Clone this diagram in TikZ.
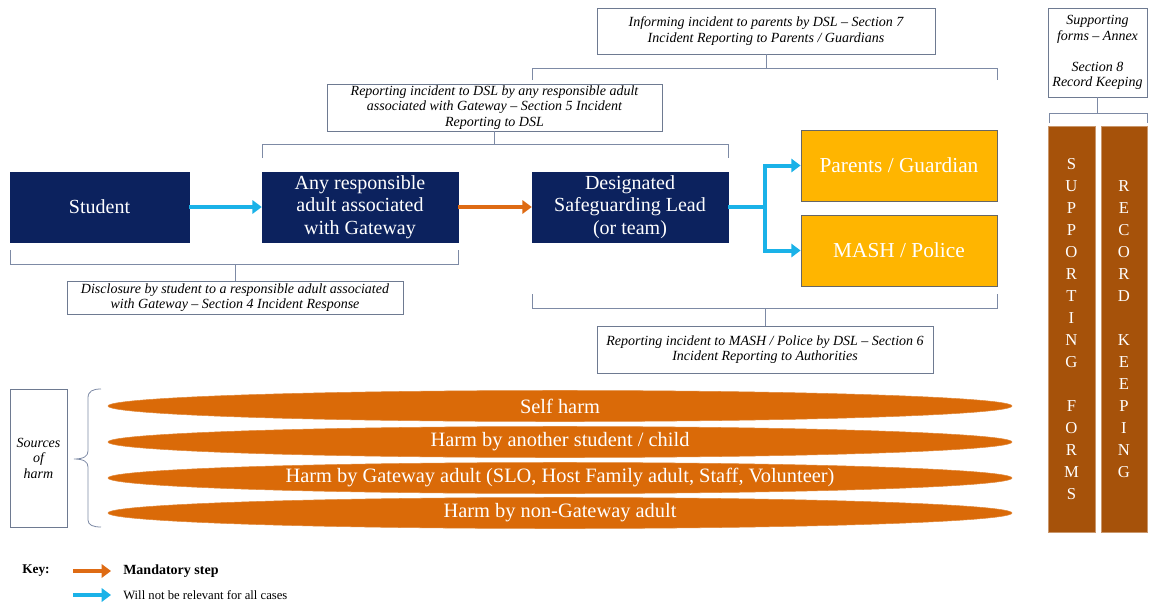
\documentclass[tikz,border=0pt]{standalone}
\usepackage{fontspec}
\setmainfont{Liberation Serif}
\usetikzlibrary{arrows.meta,shapes.geometric}
\definecolor{navy}{RGB}{12,34,94}
\definecolor{goldc}{RGB}{255,181,0}
\definecolor{ellc}{RGB}{218,106,8}
\definecolor{brownc}{RGB}{166,82,10}
\definecolor{cyanc}{RGB}{26,178,232}
\definecolor{orarrow}{RGB}{222,107,20}
\definecolor{brkc}{RGB}{125,138,165}
\definecolor{lblc}{RGB}{110,122,145}
\tikzset{
  navybox/.style={fill=navy, draw=navy, text=white, align=center, inner sep=0pt,
    minimum height=52.5pt, font=\fontsize{15}{17}\selectfont},
  goldbox/.style={fill=goldc, draw=gray!80!black, line width=0.6pt, text=white, align=center, inner sep=0pt,
    minimum width=147pt, minimum height=53.25pt, font=\fontsize{16}{18}\selectfont},
  lbl/.style={draw=lblc, line width=0.6pt, fill=white, align=center, inner sep=0pt,
    font=\itshape\fontsize{10.5}{11.6}\selectfont},
  brk/.style={draw=brkc, line width=0.6pt},
  harm/.style={ellipse, fill=ellc, draw=ellc!80!white, line width=0.4pt, text=white, inner sep=0pt,
    minimum width=678pt, minimum height=23.25pt, font=\fontsize{15.3}{17}\selectfont},
  colbox/.style={fill=brownc, draw=brownc!60!white, line width=0.5pt, text=white, align=center, inner sep=0pt,
    minimum height=304.5pt, font=\fontsize{12.5}{16.5}\selectfont},
  bluearrow/.style={draw=cyanc, line width=3pt, -{Triangle[length=7pt,width=10pt]}},
  orangearrow/.style={draw=orarrow, line width=3pt, -{Triangle[length=7pt,width=10pt]}}
}
\begin{document}
\begin{tikzpicture}[x=0.75pt,y=-0.75pt]
\useasboundingbox (0,0) rectangle (1157,607);

% main boxes
\node[navybox, minimum width=134.25pt] (student) at (99.5,207) {Student};
\node[navybox, minimum width=147pt] (adult) at (360,207) {Any responsible\\adult associated\\with Gateway};
\node[navybox, minimum width=147pt] (dsl) at (630,207) {Designated\\Safeguarding Lead\\(or team)};
\node[goldbox] (parents) at (899,165.5) {Parents / Guardian};
\node[goldbox] (mash) at (899,250.5) {MASH / Police};

% arrows
\draw[bluearrow] (student.east) -- (adult.west);
\draw[orangearrow] (adult.east) -- (dsl.west);
\coordinate (split) at (765,207);
\draw[draw=cyanc, line width=3pt] (dsl.east) -- (split);
\draw[bluearrow] (split) |- (parents.west);
\draw[bluearrow] (split) |- (mash.west);

% label boxes
\node[lbl, minimum width=253.5pt, minimum height=34.5pt] (inform) at (766,31)
  {Informing incident to parents by DSL – Section 7\\Incident Reporting to Parents / Guardians};
\node[lbl, minimum width=251.25pt, minimum height=35.25pt] (rep) at (494.5,107.5)
  {Reporting incident to DSL by any responsible adult\\associated with Gateway – Section 5 Incident\\Reporting to DSL};
\node[lbl, minimum width=252pt, minimum height=24.75pt] (disc) at (235,297.5)
  {Disclosure by student to a responsible adult associated\\with Gateway – Section 4 Incident Response};
\node[lbl, minimum width=252pt, minimum height=35.25pt] (auth) at (765,349.5)
  {Reporting incident to MASH / Police by DSL – Section 6\\Incident Reporting to Authorities};
\node[lbl, minimum width=74.25pt, minimum height=66.75pt] (annex) at (1097.5,52.5)
  {Supporting\\forms – Annex\\[11.6pt]Section 8\\Record Keeping};
\node[lbl, minimum width=42.75pt, minimum height=103.5pt] (sources) at (38.5,458)
  {Sources\\of\\harm};

% brackets
\coordinate (c1) at (766,68);
\draw[brk] (inform.south) -- (c1);
\draw[brk] (532,80) -- (532,68) -- (997,68) -- (997,80);
\coordinate (c2) at (494.5,144);
\draw[brk] (rep.south) -- (c2);
\draw[brk] (262,158) -- (262,144) -- (728,144) -- (728,158);
\coordinate (c3) at (235,264);
\draw[brk] (disc.north) -- (c3);
\draw[brk] (10,250) -- (10,264) -- (458,264) -- (458,250);
\coordinate (c4) at (765,308);
\draw[brk] (auth.north) -- (c4);
\draw[brk] (532,294) -- (532,308) -- (997,308) -- (997,294);
\coordinate (c5) at (1097.5,113);
\draw[brk] (annex.south) -- (c5);
\draw[brk] (1049,123) -- (1049,113) -- (1147,113) -- (1147,123);

% columns
\node[colbox, minimum width=35.25pt] (forms) at (1071.5,329)
  {S\\U\\P\\P\\O\\R\\T\\I\\N\\G\\\mbox{}\\F\\O\\R\\M\\S};
\node[colbox, minimum width=34.5pt] (record) at (1124,329)
  {R\\E\\C\\O\\R\\D\\\mbox{}\\K\\E\\E\\P\\I\\N\\G};

% harm ellipses
\node[harm] (h1) at (560,406) {Self harm};
\node[harm] (h2) at (560,442) {Harm by another student / child};
\node[harm] (h3) at (560,478) {Harm by Gateway adult (SLO, Host Family adult, Staff, Volunteer)};
\node[harm] (h4) at (560,513) {Harm by non-Gateway adult};

% brace
\draw[brk] (101,389) .. controls (93,389) and (88,391) .. (88,398) -- (88,451)
  .. controls (88,456) and (84,459) .. (74,459)
  .. controls (84,459) and (88,462) .. (88,467) -- (88,520)
  .. controls (88,525) and (93,527) .. (101,527);

% key
\node[font=\bfseries\fontsize{10}{11}\selectfont, anchor=west, inner sep=0pt] (keylbl) at (22,571) {Key:};
\coordinate (k1a) at (73,571); \coordinate (k1b) at (111,571);
\coordinate (k2a) at (73,595); \coordinate (k2b) at (111,595);
\draw[orangearrow] (k1a) -- (k1b);
\draw[bluearrow] (k2a) -- (k2b);
\node[font=\bfseries\fontsize{10.5}{12}\selectfont, anchor=west, inner sep=0pt] (mand) at (123,571) {Mandatory step};
\node[font=\fontsize{9.5}{11}\selectfont, anchor=west, inner sep=0pt] (notrel) at (123,595) {Will not be relevant for all cases};
\end{tikzpicture}
\end{document}
